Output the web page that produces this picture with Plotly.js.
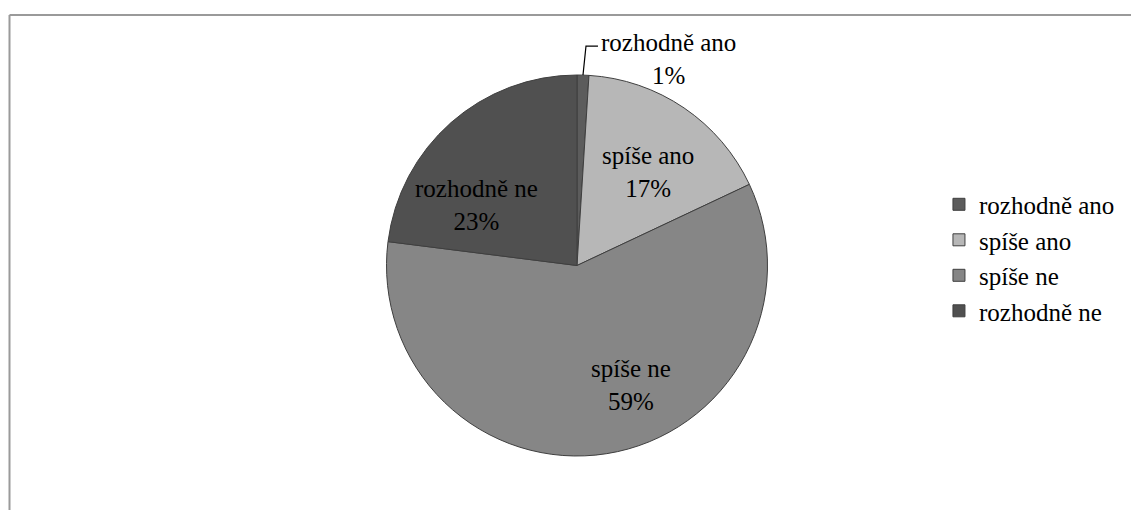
<!DOCTYPE html>
<html>
<head>
<meta charset="utf-8">
<script src="https://cdn.plot.ly/plotly-3.0.1.min.js"></script>
<style>
  html, body { margin: 0; padding: 0; background: #ffffff; }
  #chart { width: 1131px; height: 510px; }
</style>
</head>
<body>
<div id="chart"></div>
<script>
// Answers to the survey question, in order clockwise from 12 o'clock
const categories = ['rozhodně ano', 'spíše ano', 'spíše ne', 'rozhodně ne'];
const shares = [1, 17, 59, 23];
const sliceColors = ['#5c5c5c', '#b7b7b7', '#868686', '#505050'];

const W = 1131, H = 510;
const FONT = 'Liberation Serif';
const FS = 25;

// Pie placement in pixels
const cx = 577, cy = 265.5, R = 190.5;
const domainX = [(cx - R) / W, (cx + R) / W];
const domainY = [1 - (cy + R) / H, 1 - (cy - R) / H];

// Centres of the data labels (pixels); the first one sits outside the pie
const labelPos = [[668, 59], [648, 172], [631, 385], [476, 205]];

const total = shares.reduce((a, b) => a + b, 0);
const pct = shares.map(v => Math.round(100 * v / total) + '%');

// Elbow leader line from the middle of the first (tiny) slice to its label
const ang = 2 * Math.PI * (0.5 * shares[0] / total);
const px = cx + R * Math.sin(ang);
const py = cy - R * Math.cos(ang);
const elbowX = px + 3, elbowY = py - 29;
const endX = elbowX + 12;

const toPaperX = x => x / W;
const toPaperY = y => 1 - y / H;

const trace = {
  type: 'pie',
  labels: categories,
  values: shares,
  sort: false,
  direction: 'clockwise',
  rotation: 0,
  domain: { x: domainX, y: domainY },
  marker: { colors: sliceColors, line: { color: '#3f3f3f', width: 1 } },
  textinfo: 'none',
  hoverinfo: 'none'
};

const labelAnnotations = categories.map((c, i) => ({
  xref: 'paper', yref: 'paper',
  x: toPaperX(labelPos[i][0]), y: toPaperY(labelPos[i][1]),
  xanchor: 'center', yanchor: 'middle', showarrow: false, align: 'center',
  text: c + '<br>' + pct[i],
  font: { family: FONT, size: FS, color: '#000000' }
}));

const layout = {
  width: W,
  height: H,
  margin: { l: 0, r: 0, t: 0, b: 0 },
  paper_bgcolor: '#ffffff',
  font: { family: FONT, size: FS, color: '#000000' },
  showlegend: true,
  legend: {
    x: 0.8302, y: 0.644, xanchor: 'left', yanchor: 'top',
    font: { family: FONT, size: FS, color: '#000000' },
    bgcolor: 'rgba(0,0,0,0)'
  },
  shapes: [
    { type: 'line', xref: 'paper', yref: 'paper', x0: toPaperX(9.5), x1: 1, y0: toPaperY(15), y1: toPaperY(15),
      line: { color: '#9a9a9a', width: 2 } },
    { type: 'line', xref: 'paper', yref: 'paper', x0: toPaperX(9.5), x1: toPaperX(9.5), y0: 0, y1: toPaperY(15),
      line: { color: '#9a9a9a', width: 2 } },
    { type: 'path', xref: 'paper', yref: 'paper',
      path: `M${toPaperX(px)},${toPaperY(py)} L${toPaperX(elbowX)},${toPaperY(elbowY)} L${toPaperX(endX)},${toPaperY(elbowY)}`,
      line: { color: '#000000', width: 1.2 } }
  ],
  annotations: labelAnnotations
};

Plotly.newPlot('chart', [trace], layout, { displayModeBar: false, staticPlot: true });
</script>
</body>
</html>
